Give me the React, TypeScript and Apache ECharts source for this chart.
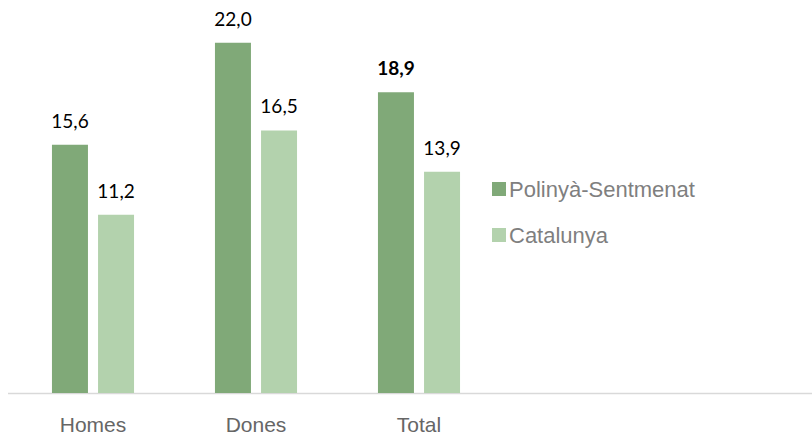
import React, { useEffect, useRef } from "react";
import * as echarts from "echarts";

const categories = ["Homes", "Dones", "Total"];
const seriesNames = ["Polinyà-Sentmenat", "Catalunya"];
const polinyaValues = [15.6, 22.0, 18.9];
const catalunyaValues = [11.2, 16.5, 13.9];
const boldLabelIndex = 2;

const fmt = (v: number) => v.toFixed(1).replace(".", ",");

export default function App() {
  const ref = useRef<HTMLDivElement>(null);
  useEffect(() => {
    if (!ref.current) return;
    const chart = echarts.init(ref.current, undefined, { renderer: "svg" });
    const labelBase = {
      show: true,
      position: "top",
      distance: 15,
      color: "#000000",
      fontFamily: "Lato",
      fontSize: 19,
    };
    chart.setOption({
      animation: false,
      backgroundColor: "#ffffff",
      grid: { left: 11.5, width: 489, top: 11, bottom: 42, containLabel: false },
      legend: {
        orient: "vertical",
        left: 487,
        top: 172,
        icon: "rect",
        itemWidth: 14,
        itemHeight: 14,
        itemGap: 22,
        textStyle: {
          fontFamily: "Liberation Sans",
          fontSize: 22,
          color: "#7f7f7f",
          lineHeight: 24,
          padding: [0, 0, 0, -2],
        },
        data: seriesNames,
      },
      xAxis: {
        type: "category",
        data: categories,
        axisLine: { show: false },
        axisTick: { show: false },
        axisLabel: {
          margin: 21,
          fontFamily: "Liberation Sans",
          fontSize: 21,
          color: "#666666",
        },
      },
      yAxis: {
        type: "value",
        min: 0,
        max: 24,
        show: false,
        splitLine: { show: false },
      },
      graphic: [
        {
          type: "line",
          shape: { x1: 8, y1: 393.5, x2: 812, y2: 393.5 },
          style: { stroke: "#d9d9d9", lineWidth: 1.5 },
        },
      ],
      series: [
        {
          name: seriesNames[0],
          type: "bar",
          barWidth: 36,
          barGap: "28%",
          itemStyle: { color: "#80a978" },
          data: polinyaValues.map((v, i) => ({
            value: v,
            label: {
              ...labelBase,
              fontWeight: i === boldLabelIndex ? "bold" : "normal",
              formatter: () => fmt(v),
            },
          })),
        },
        {
          name: seriesNames[1],
          type: "bar",
          barWidth: 36,
          barGap: "28%",
          itemStyle: { color: "#b3d2ad" },
          data: catalunyaValues.map((v) => ({
            value: v,
            label: { ...labelBase, formatter: () => fmt(v) },
          })),
        },
      ],
    });
    return () => chart.dispose();
  }, []);
  return (
    <div
      ref={ref}
      style={{ position: "fixed", left: 0, top: 0, width: 812, height: 435 }}
    />
  );
}
